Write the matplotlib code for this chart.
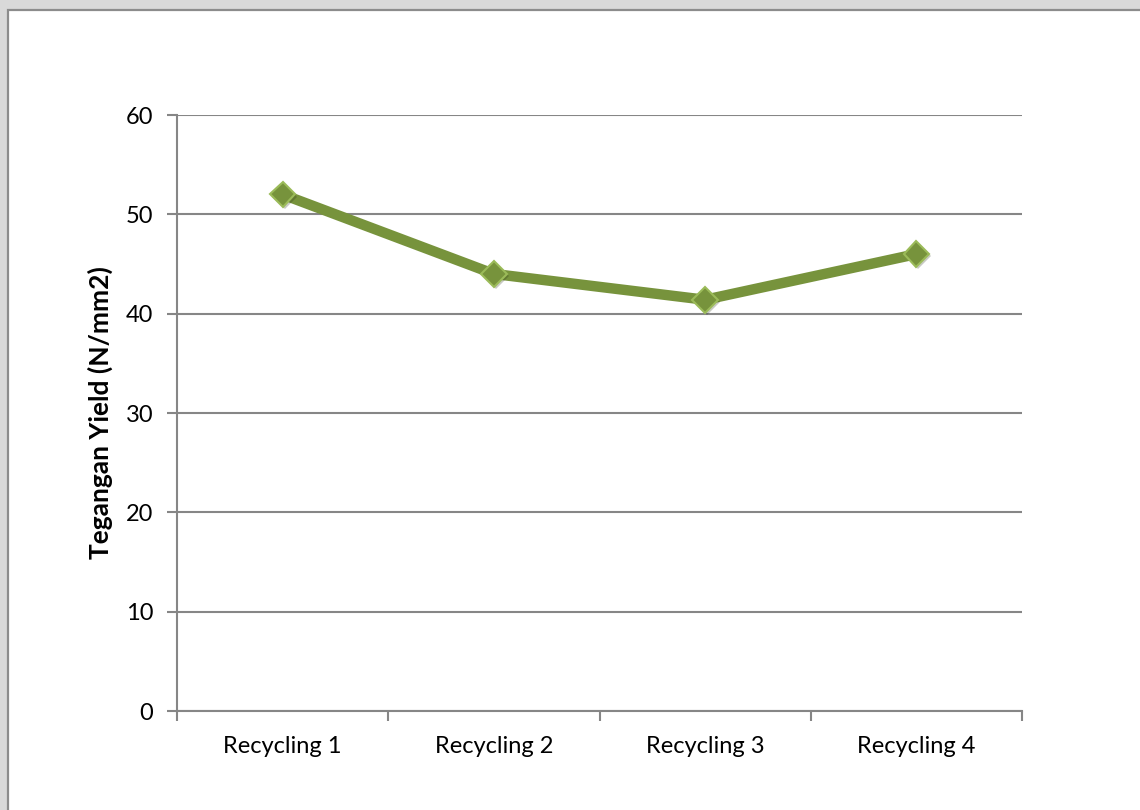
import matplotlib.pyplot as plt
import matplotlib.patches as mpatches
import matplotlib.patheffects as pe

# ── Data ─────────────────────────────────────────────────────────────────────
categories = ["Recycling 1", "Recycling 2", "Recycling 3", "Recycling 4"]
yield_stress = [52.0, 44.0, 41.4, 46.0]
y_ticks = [0, 10, 20, 30, 40, 50, 60]

plt.rcParams["font.family"] = ["Lato", "DejaVu Sans"]

fig = plt.figure(figsize=(11.4, 8.1), dpi=100, facecolor="#d9d9d9")

# white chart frame with gray border (open to the right and bottom)
frame = mpatches.Rectangle((8 / 1140, -0.05), 1.1, 1 - 10 / 810 + 0.05,
                           transform=fig.transFigure, facecolor="white",
                           edgecolor="#8c8c8c", linewidth=1.6, zorder=-5)
fig.patches.append(frame)

ax = fig.add_axes([177 / 1140, 1 - 711 / 810, 845 / 1140, 596 / 810])
ax.set_zorder(2)
ax.set_facecolor("white")

x = [i + 0.5 for i in range(len(categories))]
ax.plot(x, yield_stress, color="#77933c", linewidth=7.5, solid_capstyle="butt",
        zorder=3)
ax.plot(x, yield_stress, linestyle="none", marker="D", markersize=13,
        markerfacecolor="#77933c", markeredgecolor="#9bbb59",
        markeredgewidth=1.5, zorder=4,
        path_effects=[pe.SimplePatchShadow(offset=(1.5, -1.5), alpha=0.25),
                      pe.Normal()])

ax.set_xlim(0, len(categories))
ax.set_ylim(0, 60)
ax.set_yticks(y_ticks)
ax.set_yticklabels([str(v) for v in y_ticks], fontsize=17)
ax.set_xticks([i for i in range(len(categories) + 1)])
ax.set_xticklabels([])
ax.set_xticks(x, minor=True)
ax.set_xticklabels(categories, minor=True, fontsize=17)
ax.tick_params(axis="x", which="minor", length=0, pad=18)
ax.tick_params(axis="x", which="major", length=7, width=1.5, color="#868686",
               direction="out")
ax.tick_params(axis="y", length=7, width=1.5, color="#868686", pad=10)

ax.grid(axis="y", color="#868686", linewidth=1.5, zorder=1)
for side in ["top", "right"]:
    ax.spines[side].set_visible(False)
for side in ["left", "bottom"]:
    ax.spines[side].set_color("#868686")
    ax.spines[side].set_linewidth(1.5)

ax.set_ylabel("Tegangan Yield (N/mm2)", fontsize=19, fontweight="bold",
              labelpad=9)

fig.savefig("out.png", dpi=100, facecolor=fig.get_facecolor())
